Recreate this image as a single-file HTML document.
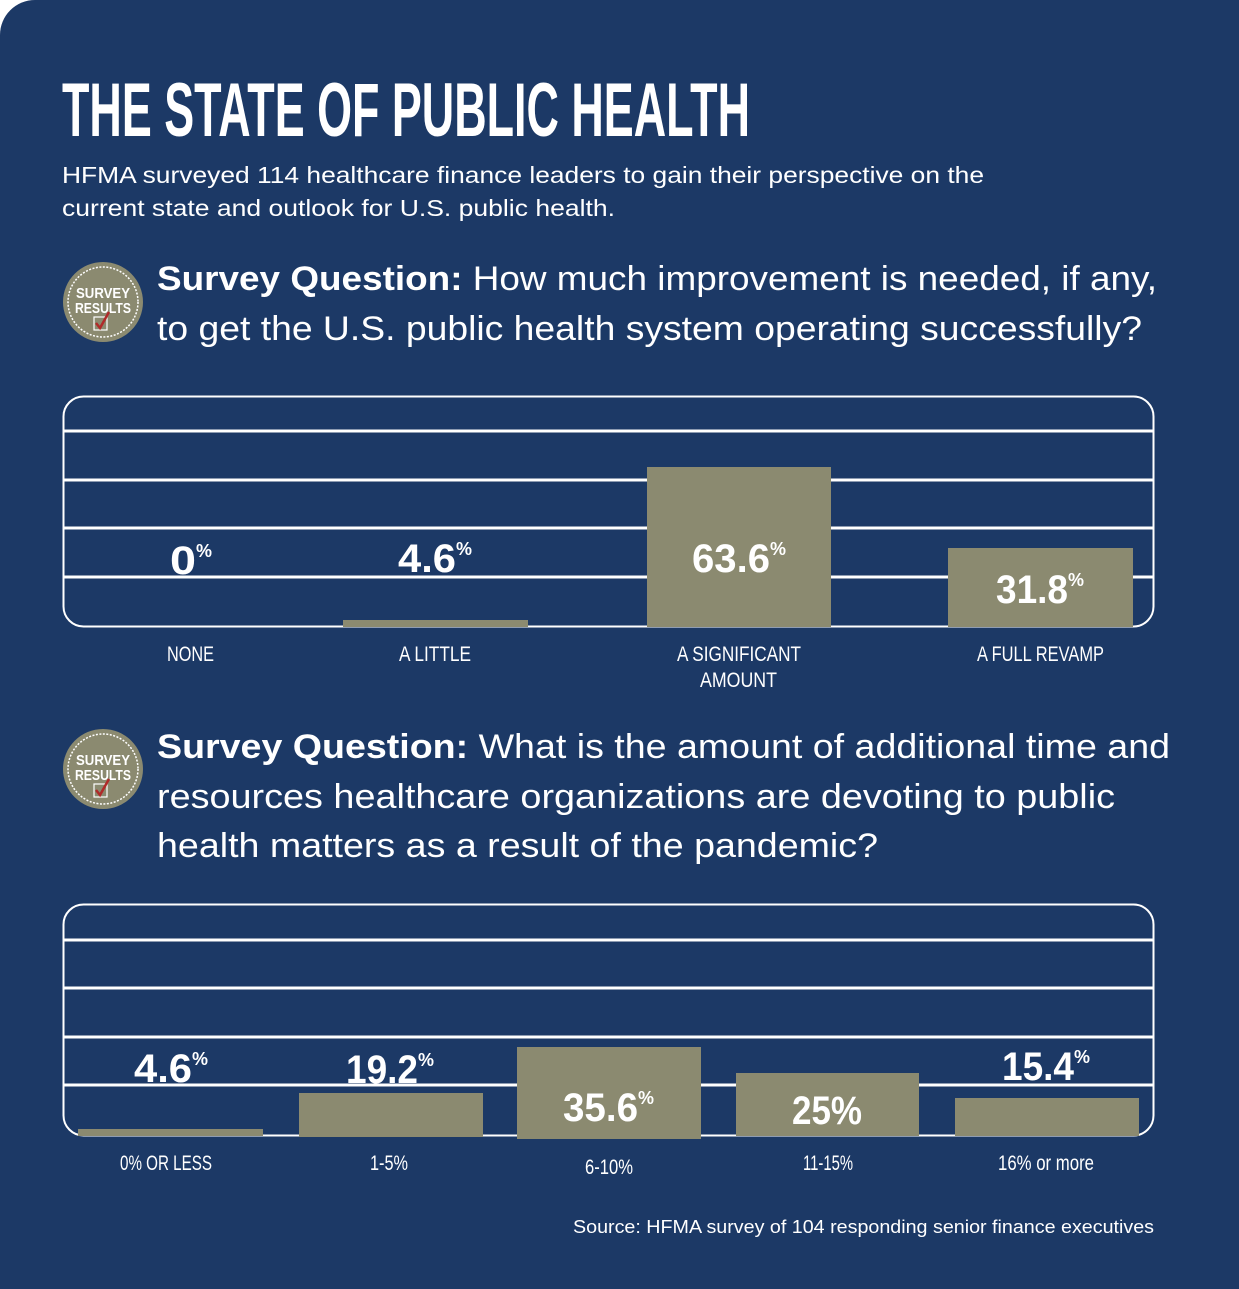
<!DOCTYPE html>
<html><head><meta charset="utf-8"><style>
html,body{margin:0;padding:0;background:#fff;}
svg{display:block}
</style></head><body>
<svg width="1239" height="1289" viewBox="0 0 1239 1289" xmlns="http://www.w3.org/2000/svg">
<rect x="0" y="0" width="1239" height="1289" fill="#fff"/>
<path d="M35 0 H1239 V1289 H0 V35 A35 35 0 0 1 35 0 Z" fill="#1c3966"/>
<g font-family="'Liberation Sans',sans-serif" font-weight="bold" fill="#fff">
<text x="62" y="136" font-size="76" textLength="688" lengthAdjust="spacingAndGlyphs">THE STATE OF PUBLIC HEALTH</text>
</g>
<g font-family="'Liberation Sans',sans-serif" fill="#fff">
<text x="62" y="183" font-size="23" textLength="922" lengthAdjust="spacingAndGlyphs">HFMA surveyed 114 healthcare finance leaders to gain their perspective on the</text>
<text x="62" y="216" font-size="23" textLength="553" lengthAdjust="spacingAndGlyphs">current state and outlook for U.S. public health.</text>
<text x="157" y="290" font-size="34" textLength="1000" lengthAdjust="spacingAndGlyphs"><tspan font-weight="bold">Survey Question:</tspan> How much improvement is needed, if any,</text>
<text x="157" y="340" font-size="34" textLength="985" lengthAdjust="spacingAndGlyphs">to get the U.S. public health system operating successfully?</text>
<text x="157" y="758" font-size="34" textLength="1013" lengthAdjust="spacingAndGlyphs"><tspan font-weight="bold">Survey Question:</tspan> What is the amount of additional time and</text>
<text x="157" y="808" font-size="34" textLength="958" lengthAdjust="spacingAndGlyphs">resources healthcare organizations are devoting to public</text>
<text x="157" y="857" font-size="34" textLength="721" lengthAdjust="spacingAndGlyphs">health matters as a result of the pandemic?</text>
<text x="573" y="1233" font-size="18" textLength="581" lengthAdjust="spacingAndGlyphs">Source: HFMA survey of 104 responding senior finance executives</text>
</g>
<!-- badges -->
<g id="b1">
<circle cx="103" cy="302" r="40" fill="#8b8a70"/>
<circle cx="103" cy="302" r="35" fill="none" stroke="#fff" stroke-width="1.5" stroke-dasharray="2 1.5"/>
<text x="76" y="298" font-family="'Liberation Sans',sans-serif" font-weight="bold" font-size="15" fill="#fff" textLength="54" lengthAdjust="spacingAndGlyphs">SURVEY</text>
<text x="75" y="313" font-family="'Liberation Sans',sans-serif" font-weight="bold" font-size="15" fill="#fff" textLength="56" lengthAdjust="spacingAndGlyphs">RESULTS</text>
<rect x="94" y="317" width="13" height="13" fill="none" stroke="#fff" stroke-width="1.2"/>
<path d="M96 323 L100 328 L109 312" fill="none" stroke="#b02a2a" stroke-width="2.5"/>
</g>
<use href="#b1" transform="translate(0,467)"/>
<!-- chart 1 -->
<g stroke="#fff" fill="none">
<rect x="63.5" y="396.5" width="1090" height="230" rx="20" stroke-width="2"/>
<line x1="64" y1="431" x2="1153" y2="431" stroke-width="3"/>
<line x1="64" y1="480" x2="1153" y2="480" stroke-width="3"/>
<line x1="64" y1="528" x2="1153" y2="528" stroke-width="3"/>
<line x1="64" y1="577" x2="1153" y2="577" stroke-width="3"/>
</g>
<g fill="#8b8a70">
<rect x="343" y="620" width="185" height="7"/>
<rect x="647" y="467" width="184" height="160"/>
<rect x="948" y="548" width="185" height="79"/>
</g>
<!-- chart 2 -->
<g stroke="#fff" fill="none">
<rect x="63.5" y="904.5" width="1090" height="231" rx="20" stroke-width="2"/>
<line x1="64" y1="940" x2="1153" y2="940" stroke-width="3"/>
<line x1="64" y1="988" x2="1153" y2="988" stroke-width="3"/>
<line x1="64" y1="1037" x2="1153" y2="1037" stroke-width="3"/>
<line x1="64" y1="1085" x2="1153" y2="1085" stroke-width="3"/>
</g>
<g fill="#8b8a70">
<rect x="78" y="1129" width="185" height="7"/>
<rect x="299" y="1093" width="184" height="44"/>
<rect x="517" y="1047" width="184" height="92"/>
<rect x="736" y="1073" width="183" height="63"/>
<rect x="955" y="1098" width="184" height="38"/>
</g>
<!-- value labels -->
<g font-family="'Liberation Sans',sans-serif" font-weight="bold" fill="#fff" lengthAdjust="spacingAndGlyphs">
<text x="170" y="574" font-size="40" textLength="26" lengthAdjust="spacingAndGlyphs">0</text>
<text x="196" y="557" font-size="18" textLength="16" lengthAdjust="spacingAndGlyphs">%</text>
<text x="398" y="572" font-size="40" textLength="58" lengthAdjust="spacingAndGlyphs">4.6</text>
<text x="456" y="555" font-size="18" textLength="16" lengthAdjust="spacingAndGlyphs">%</text>
<text x="692" y="572" font-size="40" textLength="78" lengthAdjust="spacingAndGlyphs">63.6</text>
<text x="770" y="555" font-size="18" textLength="16" lengthAdjust="spacingAndGlyphs">%</text>
<text x="996" y="603" font-size="40" textLength="72" lengthAdjust="spacingAndGlyphs">31.8</text>
<text x="1068" y="586" font-size="18" textLength="16" lengthAdjust="spacingAndGlyphs">%</text>
<text x="134" y="1082" font-size="40" textLength="58" lengthAdjust="spacingAndGlyphs">4.6</text>
<text x="192" y="1065" font-size="18" textLength="16" lengthAdjust="spacingAndGlyphs">%</text>
<text x="346" y="1083" font-size="40" textLength="72" lengthAdjust="spacingAndGlyphs">19.2</text>
<text x="418" y="1066" font-size="18" textLength="16" lengthAdjust="spacingAndGlyphs">%</text>
<text x="563" y="1121" font-size="40" textLength="75" lengthAdjust="spacingAndGlyphs">35.6</text>
<text x="638" y="1104" font-size="18" textLength="16" lengthAdjust="spacingAndGlyphs">%</text>
<text x="792" y="1124" font-size="40" textLength="70" lengthAdjust="spacingAndGlyphs">25%</text>
<text x="1002" y="1080" font-size="40" textLength="72" lengthAdjust="spacingAndGlyphs">15.4</text>
<text x="1074" y="1063" font-size="18" textLength="16" lengthAdjust="spacingAndGlyphs">%</text>
</g>
<g font-family="'Liberation Sans',sans-serif" fill="#fff" font-size="21">
<text x="167" y="661" textLength="47" lengthAdjust="spacingAndGlyphs">NONE</text>
<text x="399" y="661" textLength="72" lengthAdjust="spacingAndGlyphs">A LITTLE</text>
<text x="677" y="661" textLength="124" lengthAdjust="spacingAndGlyphs">A SIGNIFICANT</text>
<text x="700" y="687" textLength="77" lengthAdjust="spacingAndGlyphs">AMOUNT</text>
<text x="977" y="661" textLength="127" lengthAdjust="spacingAndGlyphs">A FULL REVAMP</text>
<text x="120" y="1170" textLength="92" lengthAdjust="spacingAndGlyphs">0% OR LESS</text>
<text x="370" y="1170" textLength="38" lengthAdjust="spacingAndGlyphs">1-5%</text>
<text x="585" y="1174" textLength="48" lengthAdjust="spacingAndGlyphs">6-10%</text>
<text x="803" y="1170" textLength="50" lengthAdjust="spacingAndGlyphs">11-15%</text>
<text x="998" y="1170" textLength="96" lengthAdjust="spacingAndGlyphs">16% or more</text>
</g>
</svg>
</body></html>
